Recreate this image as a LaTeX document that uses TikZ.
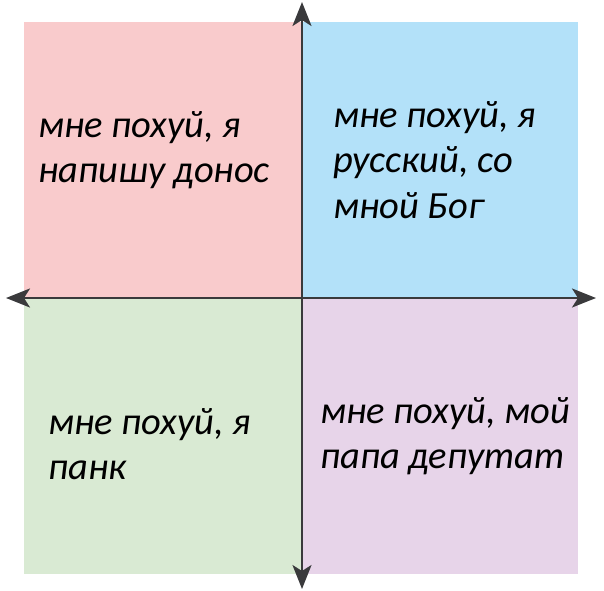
\documentclass[tikz,border=0pt]{standalone}
\usepackage{fontspec}
\setmainfont{Carlito}
\usepackage{tikz}
\usetikzlibrary{positioning,arrows.meta}

\definecolor{quadred}{HTML}{F9CBCC}
\definecolor{quadblue}{HTML}{B3E1F9}
\definecolor{quadgreen}{HTML}{D9EAD3}
\definecolor{quadpurple}{HTML}{E7D4E9}
\definecolor{axisgray}{HTML}{3A3A3C}

\tikzset{
  quadtext/.style={anchor=north west,inner sep=0pt,align=left,
    font=\itshape\fontsize{38.5}{45.5}\selectfont},
  axisline/.style={draw=axisgray,line width=2pt,
    -{Stealth[length=24pt,width=19pt,inset=6pt]}}
}

\begin{document}
\begin{tikzpicture}[x=1pt,y=-1pt]
\useasboundingbox (0,0) rectangle (604,590);
% quadrants
\fill[quadred] (24,22) rectangle (302,298);
\fill[quadblue] (302,22) rectangle (578,298);
\fill[quadgreen] (24,298) rectangle (302,574);
\fill[quadpurple] (302,298) rectangle (578,574);
% axes
\coordinate (center) at (302,298);
\coordinate (west) at (6,298);
\coordinate (east) at (596,298);
\coordinate (north) at (302,2);
\coordinate (south) at (302,589);
\draw[axisline] (center) -- (west);
\draw[axisline] (center) -- (east);
\draw[axisline] (center) -- (north);
\draw[axisline] (center) -- (south);
% labels
\node[quadtext] (donos) at (38,111) {мне похуй, я\\напишу донос};
\node[quadtext] (bog) at (333,101) {мне похуй, я\\русский, со\\мной Бог};
\node[quadtext] (punk) at (48,408) {мне похуй, я\\панк};
\node[quadtext] (deputat) at (320,397) {мне похуй, мой\\папа депутат};
\end{tikzpicture}
\end{document}
